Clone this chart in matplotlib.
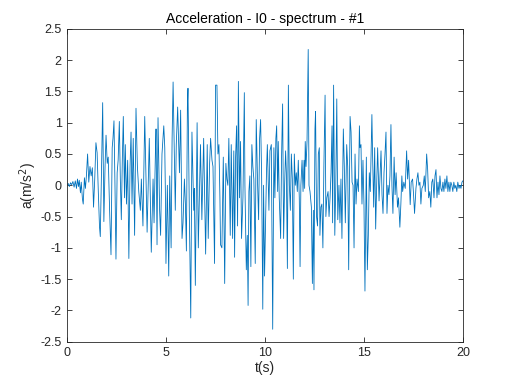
import numpy as np
import matplotlib
matplotlib.use("Agg")
import matplotlib.pyplot as plt

# extrema of the acceleration record (time in s, a in m/s^2)
t_start = [0.00, 0.08, 0.14, 0.20, 0.26, 0.32, 0.38, 0.44, 0.50, 0.55, 0.60, 0.64,
           0.70, 0.74, 0.80, 0.84, 0.90, 0.95, 1.00]
a_start = [0.00, 0.03, -0.02, 0.04, 0.01, 0.06, -0.03, 0.07, -0.05, 0.10, -0.02, 0.08,
           -0.12, 0.05, -0.22, -0.30, 0.12, -0.05, 0.15]

t_seg1 = [1.06, 1.12, 1.18, 1.24, 1.30, 1.36, 1.42, 1.48, 1.54, 1.60, 1.66, 1.70,
          1.76, 1.82, 1.88, 1.94, 1.99, 2.05, 2.10, 2.17, 2.24, 2.30, 2.34, 2.39,
          2.44, 2.49, 2.55, 2.60, 2.66, 2.71, 2.76, 2.81, 2.86, 2.92, 2.96, 3.02,
          3.08, 3.14, 3.20, 3.25, 3.30]
a_seg1 = [0.50, 0.05, 0.30, 0.15, 0.28, -0.35, 0.10, 0.68, 0.52, -0.10, -0.66, -0.82,
          0.20, 1.32, -0.58, 0.30, 0.80, 0.35, 0.45, -0.40, -1.11, 0.60, 0.75, 1.03,
          0.00, -1.18, 0.20, 0.40, 1.02, 0.10, -0.55, 0.40, 1.10, -0.20, 0.65, -0.30,
          0.40, -1.17, 0.30, 0.85, -0.30]

t_seg2 = [3.36, 3.43, 3.50, 3.57, 3.64, 3.72, 3.77, 3.85, 3.94, 4.06, 4.17, 4.27,
          4.36, 4.41, 4.48, 4.51, 4.56, 4.61, 4.69, 4.74, 4.81, 4.90, 4.95, 4.98,
          5.01, 5.08, 5.15, 5.20, 5.27, 5.32, 5.37, 5.45, 5.48, 5.53, 5.60, 5.69,
          5.75, 5.82, 5.87, 5.94, 5.99, 6.04, 6.09, 6.12, 6.19, 6.26, 6.32, 6.41,
          6.44, 6.49, 6.58]
a_seg2 = [0.75, -0.80, 1.23, 0.30, -0.10, -0.40, 0.10, -0.65, 1.10, -0.75, 0.75, -1.07,
          0.10, -0.60, 0.55, 0.90, -0.95, 1.08, -0.40, -0.80, 0.50, 0.95, 0.60, -0.10,
          -1.25, 0.00, -1.45, 0.15, -1.00, 0.75, 1.65, 0.10, -0.40, 0.65, 1.25, 0.20,
          1.20, -0.85, -0.60, 0.10, -0.30, -1.05, 1.25, 1.55, -0.50, -2.12, 0.85, -0.40,
          -0.05, -1.60, 1.00]

t_seg3 = [6.64, 6.75, 6.82, 6.91, 6.96, 7.01, 7.09, 7.14, 7.21, 7.26, 7.33, 7.38,
          7.46, 7.51, 7.58, 7.63, 7.68, 7.73, 7.76, 7.83, 7.90, 7.97, 8.03, 8.08,
          8.13, 8.18, 8.25, 8.30, 8.37, 8.43, 8.47, 8.52, 8.57, 8.62, 8.66, 8.72,
          8.77, 8.82, 8.89, 8.96, 8.99, 9.06, 9.11, 9.15, 9.19, 9.24, 9.29, 9.34,
          9.39, 9.44, 9.51, 9.56, 9.63, 9.68, 9.73, 9.78, 9.83, 9.89, 9.93, 9.98]
a_seg3 = [-1.00, 0.65, -0.55, 0.75, -0.20, -1.10, 0.65, -0.85, 0.35, 0.75, 0.40, 0.30,
          -1.25, 1.60, 1.60, 0.50, 0.65, -0.20, -0.95, -1.00, 0.45, -1.57, 0.35, 0.10,
          0.00, 0.75, -0.80, 0.65, -0.85, 0.55, -1.15, 0.45, 0.95, -0.65, 1.66, -0.20,
          0.70, -0.85, -0.20, 1.48, 0.00, -1.35, -0.80, -1.92, -0.10, 0.15, -1.30, 0.65,
          0.30, 0.10, -1.25, 1.05, 0.00, -0.55, 0.75, 1.05, 0.20, -1.98, 0.00, -1.45]

t_seg4 = [10.08, 10.12, 10.20, 10.25, 10.32, 10.39, 10.45, 10.50, 10.55, 10.59, 10.64,
          10.67, 10.72, 10.79, 10.84, 10.89, 10.94, 10.99, 11.04, 11.08, 11.13, 11.18,
          11.23, 11.28, 11.33, 11.38, 11.43, 11.48, 11.53, 11.58, 11.63, 11.68, 11.73,
          11.77, 11.81, 11.87, 11.92, 11.97, 12.00, 12.03, 12.07, 12.12, 12.18, 12.22,
          12.27, 12.34, 12.39, 12.44, 12.47, 12.52, 12.55, 12.60, 12.65, 12.69, 12.74,
          12.77, 12.82, 12.87, 12.92, 12.97, 13.03, 13.07, 13.12, 13.18, 13.23, 13.28]
a_seg4 = [0.25, 0.65, -0.40, 0.55, 0.65, -2.30, 0.60, -0.20, 0.75, 0.95, -0.10,
          0.70, -0.20, -0.85, 0.50, 1.30, -0.85, 0.00, 0.55, 0.20, -1.33, 1.60,
          0.00, -0.40, 0.50, 0.10, -1.50, 0.50, 0.00, 0.20, -0.10, 0.40, -0.20,
          -1.30, 0.00, 0.40, -0.10, 0.40, -0.05, 0.70, 0.30, 0.70, 2.17, 0.00,
          -0.10, -0.35, -1.57, -0.40, -1.67, 0.90, 1.18, -0.50, -0.65, 0.50, 0.60,
          -0.80, -0.35, -0.30, -1.00, 0.30, 1.44, -0.50, -0.20, -0.10, -0.50, -0.20]

t_seg5 = [13.33, 13.38, 13.41, 13.46, 13.52, 13.57, 13.62, 13.67, 13.73, 13.78, 13.83,
          13.88, 13.95, 14.00, 14.05, 14.12, 14.17, 14.22, 14.29, 14.34, 14.39, 14.44,
          14.49, 14.54, 14.59, 14.64, 14.71, 14.76, 14.79, 14.84, 14.89, 14.94, 14.99,
          15.04, 15.11, 15.16, 15.21, 15.26, 15.31, 15.39, 15.43, 15.48, 15.53, 15.58,
          15.63, 15.68, 15.75, 15.80, 15.85, 15.90, 15.95, 16.00, 16.05, 16.10, 16.15,
          16.20, 16.25, 16.30, 16.35, 16.40, 16.45, 16.51, 16.56, 16.61]
a_seg5 = [0.20, 0.95, -0.60, 1.60, -0.80, 0.00, 1.38, -0.55, 0.00, -0.60, 0.10,
          -0.85, 0.90, 0.30, -0.60, 0.65, 0.30, -1.35, 1.10, 0.85, 0.05, 0.00,
          -1.00, 0.50, -0.30, 0.10, -0.10, 0.95, 0.60, 0.65, -0.30, 0.40, -0.30,
          -1.69, 0.45, -1.35, -0.80, 0.20, -0.10, 1.13, 0.40, -0.35, 0.60, -0.70,
          0.00, 0.60, -0.25, 0.15, 0.55, -0.15, -0.45, 0.20, 0.50, 0.85, -0.45,
          0.00, -0.15, 0.15, 0.97, 0.00, -0.45, 0.45, -0.15, 0.20]

t_end = [16.68, 16.73, 16.80, 16.85, 16.90, 16.94, 17.00, 17.07, 17.14, 17.19, 17.24,
         17.29, 17.32, 17.37, 17.44, 17.49, 17.54, 17.61, 17.66, 17.71, 17.76, 17.81,
         17.86, 17.91, 17.98, 18.03, 18.08, 18.15, 18.20, 18.25, 18.31, 18.36, 18.41,
         18.46, 18.52, 18.57, 18.62, 18.67, 18.72, 18.77, 18.82, 18.87, 18.92, 18.97,
         19.02, 19.07, 19.12, 19.17, 19.22, 19.27, 19.32, 19.37, 19.42, 19.47, 19.52,
         19.57, 19.62, 19.67, 19.72, 19.78, 19.83, 19.88, 19.93, 20.00]
a_end = [-0.35, -0.20, -0.67, -0.30, 0.15, -0.10, 0.05, -0.05, 0.55, 0.10, 0.40,
         -0.05, -0.31, 0.05, 0.10, -0.15, -0.45, -0.05, 0.10, 0.20, 0.00, 0.05,
         -0.30, -0.05, 0.00, 0.15, -0.10, 0.50, 0.25, -0.20, -0.10, -0.35, 0.05,
         0.10, -0.20, 0.15, 0.25, -0.20, 0.05, -0.15, 0.15, -0.05, -0.10, 0.05,
         -0.10, 0.10, -0.05, 0.15, -0.10, 0.05, -0.10, 0.05, 0.00, -0.10, 0.05,
         -0.05, 0.00, -0.10, 0.05, -0.05, 0.00, -0.05, 0.05, 0.08]

t = np.concatenate([t_start, t_seg1, t_seg2, t_seg3, t_seg4, t_seg5, t_end])
a = np.concatenate([a_start, a_seg1, a_seg2, a_seg3, a_seg4, a_seg5, a_end])

x_ticks = [0, 5, 10, 15, 20]
y_ticks = [-2.5, -2, -1.5, -1, -0.5, 0, 0.5, 1, 1.5, 2, 2.5]
y_ticklabels = ['-2.5', '-2', '-1.5', '-1', '-0.5', '0', '0.5', '1', '1.5', '2', '2.5']

plt.rcParams['font.family'] = ['Liberation Sans', 'DejaVu Sans']
axis_col = '#262626'

fig = plt.figure(figsize=(5.12, 3.84), dpi=100)
ax = fig.add_axes([0.13, 0.11, 0.775, 0.815])
ax.plot(t, a, color='#0072BD', linewidth=0.6)

ax.set_xlim(0, 20)
ax.set_ylim(-2.5, 2.5)
ax.set_xticks(x_ticks)
ax.set_yticks(y_ticks)
ax.set_yticklabels(y_ticklabels)
ax.tick_params(direction='in', length=3.5, width=0.6, colors=axis_col,
               labelsize=9, top=True, right=True)
for s in ax.spines.values():
    s.set_color(axis_col)
    s.set_linewidth(0.6)

ax.set_title('Acceleration - I0 - spectrum - #1', fontsize=10, color='black', pad=4)
ax.set_xlabel('t(s)', fontsize=10, color=axis_col, labelpad=2)
ax.set_ylabel('a(m/s$^2$)', fontsize=10, color=axis_col, labelpad=1)

fig.savefig('out.png', dpi=100)
